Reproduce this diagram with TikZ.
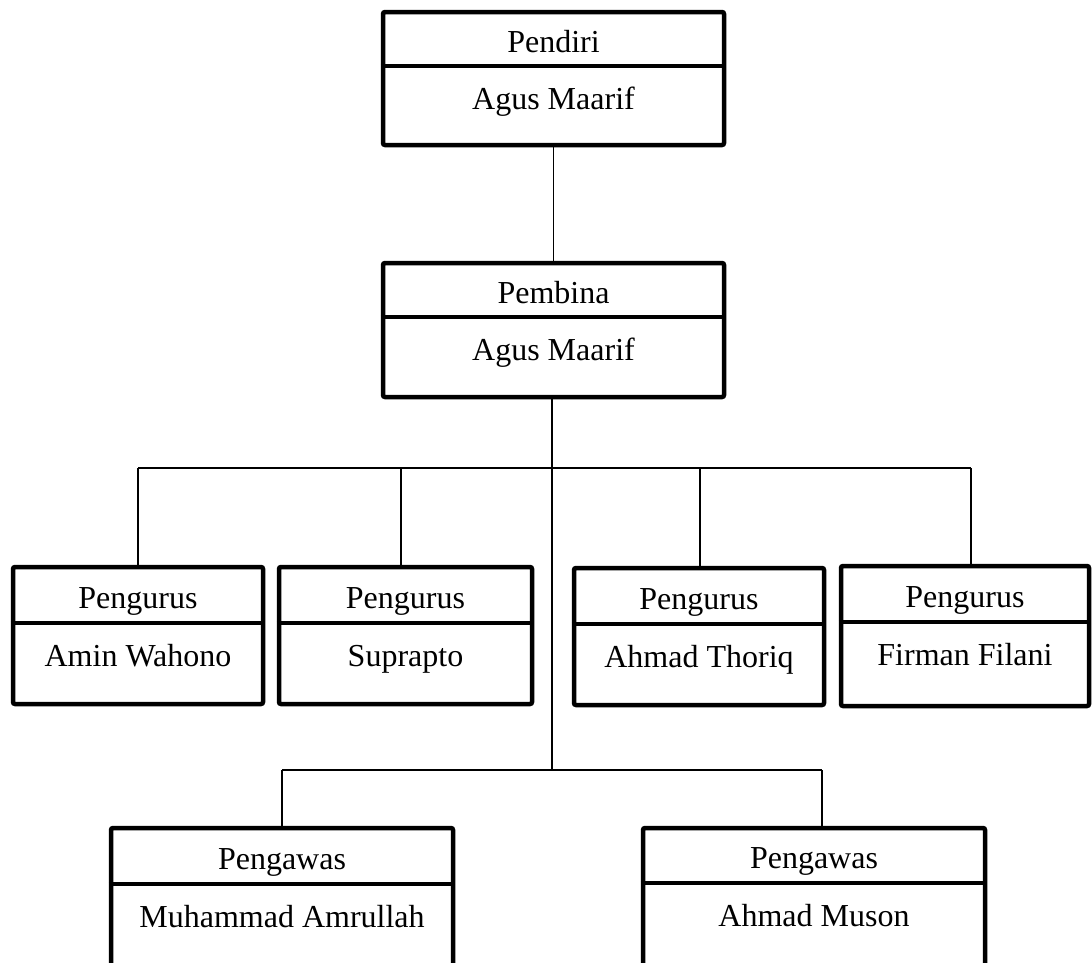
\documentclass[tikz,border=0pt]{standalone}
\usepackage{fontspec}
\setmainfont{Liberation Serif}
\begin{document}
\begin{tikzpicture}[x=1pt,y=-1pt,
  orgframe/.style={draw=black, line width=4.5pt, rounded corners=2pt, inner sep=0pt, fill=white},
  divline/.style={draw=black, line width=4pt},
  conn/.style={draw=black, line width=1.6pt},
  lbl/.style={anchor=base, inner sep=0pt, font=\fontsize{32}{38}\selectfont}]
\useasboundingbox (0,0) rectangle (1092,962);
\clip (0,0) rectangle (1092,962);
\fill[white] (0,0) rectangle (1092,962);
\newcommand{\orgbox}[8]{%
  \node[orgframe, minimum width={#4pt-#2pt}, minimum height={#5pt-#3pt}] (#1) at ({(#2+#4)/2},{(#3+#5)/2}) {};
  \draw[divline] (#1.west |- 0,#6) -- (#1.east |- 0,#6);
  \node[lbl] (#1-t) at ({(#2+#4)/2},{(#3+#6)/2+13}) {#7};
  \node[lbl] (#1-n) at ({(#2+#4)/2},{#6+43}) {#8};
}
% connectors first
\coordinate (bus1) at (552,468);
\coordinate (bus2) at (552,770);
\orgbox{pendiri}{383}{12}{724}{145}{66}{Pendiri}{Agus Maarif}
\orgbox{pembina}{383}{263}{724}{397}{317}{Pembina}{Agus Maarif}
\orgbox{pa}{13}{567}{263}{704}{623}{Pengurus}{Amin Wahono}
\orgbox{pb}{279}{567}{532}{704}{623}{Pengurus}{Suprapto}
\orgbox{pc}{574}{568}{824}{705}{624}{Pengurus}{Ahmad Thoriq}
\orgbox{pd}{841}{566}{1089}{706}{622}{Pengurus}{Firman Filani}
\orgbox{wa}{111}{828}{453}{1000}{884}{Pengawas}{Muhammad Amrullah}
\orgbox{wb}{643}{828}{985}{1000}{883}{Pengawas}{Ahmad Muson}
\draw[conn] (pendiri.south) -- (pendiri.south |- pembina.north);
\draw[conn] (pembina.south -| bus2) -- (bus2);
\coordinate (ca) at (138,468);
\coordinate (cb) at (401,468);
\coordinate (cc) at (700,468);
\coordinate (cd) at (971,468);
\draw[conn] (ca) -- (cd);
\draw[conn] (ca) -- (ca |- pa.north);
\draw[conn] (cb) -- (cb |- pb.north);
\draw[conn] (cc) -- (cc |- pc.north);
\draw[conn] (cd) -- (cd |- pd.north);
\coordinate (cwa) at (282,770);
\coordinate (cwb) at (822,770);
\draw[conn] (cwa) -- (cwb);
\draw[conn] (cwa) -- (cwa |- wa.north);
\draw[conn] (cwb) -- (cwb |- wb.north);
\end{tikzpicture}
\end{document}
